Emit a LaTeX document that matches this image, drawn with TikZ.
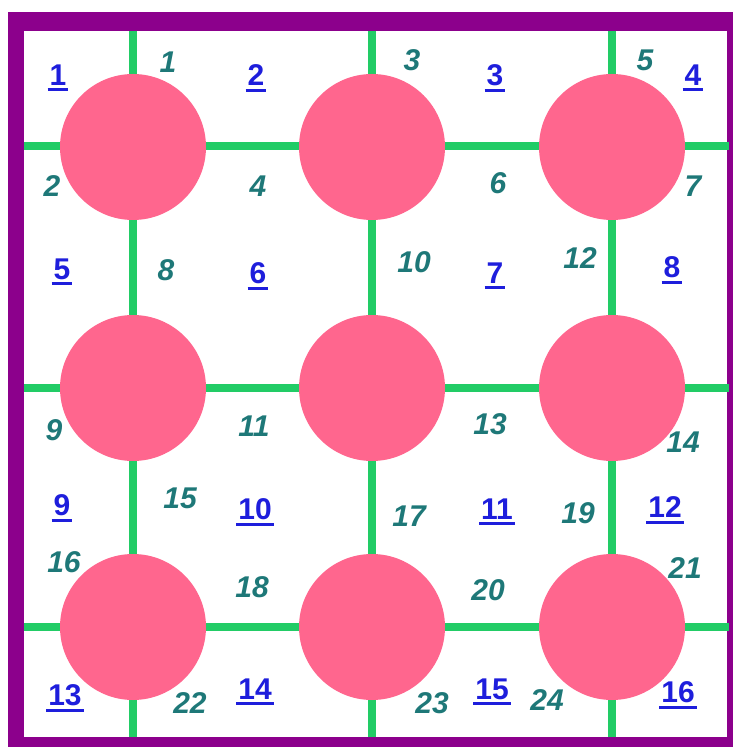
\documentclass[tikz,border=0pt]{standalone}
\usepackage{fontspec}
\setmainfont{Liberation Sans}
\usetikzlibrary{positioning}
\definecolor{frame}{RGB}{140,0,140}
\definecolor{rod}{RGB}{34,204,102}
\definecolor{ball}{RGB}{255,102,142}
\definecolor{edgenum}{RGB}{30,120,120}
\definecolor{cellnum}{RGB}{30,30,220}
\newcommand{\ulnum}[1]{\setbox0\hbox{#1}\rlap{\kern-1pt\vrule width\dimexpr\wd0+2pt\relax height -1.6pt depth 3.1pt}\box0}
\tikzset{
  ballnode/.style={circle, fill=ball, minimum size=73pt, inner sep=0pt},
  rodline/.style={draw=rod, line width=4pt},
  edgelabel/.style={text=edgenum, font=\fontsize{15}{18}\selectfont\bfseries\itshape, inner sep=0pt},
  celllabel/.style={text=cellnum, font=\fontsize{15}{18}\selectfont\bfseries, inner sep=0pt}
}

\begin{document}
\begin{tikzpicture}[x=0.5pt, y=-0.5pt]
\useasboundingbox (0,0) rectangle (733,747);
% marco
\fill[frame] (8,12) rectangle (733,747);
\fill[white] (24,31) rectangle (727,737);

% barras verdes, de borde a borde
\coordinate (t1) at (133,31);  \coordinate (b1) at (133,737);
\coordinate (t2) at (372,31);  \coordinate (b2) at (372,737);
\coordinate (t3) at (612,31);  \coordinate (b3) at (612,737);
\coordinate (l1) at (24,146);  \coordinate (r1) at (729,146);
\coordinate (l2) at (24,388);  \coordinate (r2) at (729,388);
\coordinate (l3) at (24,627);  \coordinate (r3) at (729,627);
\draw[rodline] (t1) -- (b1);
\draw[rodline] (t2) -- (b2);
\draw[rodline] (t3) -- (b3);
\draw[rodline] (l1) -- (r1);
\draw[rodline] (l2) -- (r2);
\draw[rodline] (l3) -- (r3);

% bolas
\node[ballnode] (c11) at (133,147) {};
\node[ballnode] (c12) at (372,147) {};
\node[ballnode] (c13) at (612,147) {};
\node[ballnode] (c21) at (133,388) {};
\node[ballnode] (c22) at (372,388) {};
\node[ballnode] (c23) at (612,388) {};
\node[ballnode] (c31) at (133,627) {};
\node[ballnode] (c32) at (372,627) {};
\node[ballnode] (c33) at (612,627) {};

% casillas (azul, subrayado)
\node[celllabel] (n1) at (58,78) {\ulnum{1}};
\node[celllabel] (n2) at (256,78) {\ulnum{2}};
\node[celllabel] (n3) at (495,78) {\ulnum{3}};
\node[celllabel] (n4) at (693,78) {\ulnum{4}};
\node[celllabel] (n5) at (62,272) {\ulnum{5}};
\node[celllabel] (n6) at (258,276) {\ulnum{6}};
\node[celllabel] (n7) at (495,276) {\ulnum{7}};
\node[celllabel] (n8) at (672,270) {\ulnum{8}};
\node[celllabel] (n9) at (62,508) {\ulnum{9}};
\node[celllabel] (n10) at (255,512) {\ulnum{10}};
\node[celllabel] (n11) at (497,512) {\ulnum{11}};
\node[celllabel] (n12) at (665,510) {\ulnum{12}};
\node[celllabel] (n13) at (65,698) {\ulnum{13}};
\node[celllabel] (n14) at (255,692) {\ulnum{14}};
\node[celllabel] (n15) at (492,692) {\ulnum{15}};
\node[celllabel] (n16) at (678,695) {\ulnum{16}};

% tramos (verde azulado, cursiva)
\node[edgelabel] (e1) at (168,62) {1};
\node[edgelabel] (e2) at (52,186) {2};
\node[edgelabel] (e3) at (412,60) {3};
\node[edgelabel] (e4) at (258,186) {4};
\node[edgelabel] (e5) at (645,60) {5};
\node[edgelabel] (e6) at (498,183) {6};
\node[edgelabel] (e7) at (693,186) {7};
\node[edgelabel] (e8) at (166,270) {8};
\node[edgelabel] (e9) at (54,430) {9};
\node[edgelabel] (e10) at (414,262) {10};
\node[edgelabel] (e11) at (254,426) {11};
\node[edgelabel] (e12) at (580,258) {12};
\node[edgelabel] (e13) at (490,424) {13};
\node[edgelabel] (e14) at (683,442) {14};
\node[edgelabel] (e15) at (180,498) {15};
\node[edgelabel] (e16) at (64,562) {16};
\node[edgelabel] (e17) at (409,516) {17};
\node[edgelabel] (e18) at (252,587) {18};
\node[edgelabel] (e19) at (578,513) {19};
\node[edgelabel] (e20) at (488,590) {20};
\node[edgelabel] (e21) at (685,568) {21};
\node[edgelabel] (e22) at (190,703) {22};
\node[edgelabel] (e23) at (432,703) {23};
\node[edgelabel] (e24) at (547,700) {24};
\end{tikzpicture}
\end{document}
